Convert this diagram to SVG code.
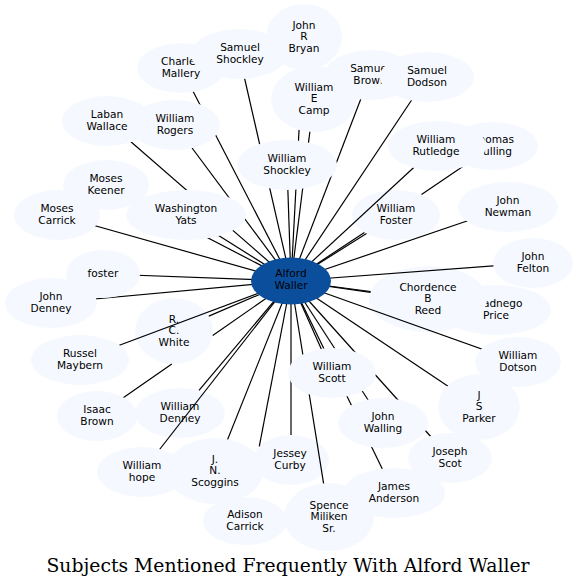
<svg xmlns="http://www.w3.org/2000/svg" width="577" height="587" viewBox="0 0 577 587">
<style>
.n ellipse{fill:#f5f9ff;stroke:none}
.n text,.c text{font-family:"DejaVu Sans","Liberation Sans",sans-serif;font-size:10.6px;text-anchor:middle;fill:#000}
.c ellipse{fill:#0b4f9c;stroke:none}
#edges path{stroke:#000;stroke-width:1.2;fill:none}
.title{font-family:"DejaVu Serif","Liberation Serif",serif;font-size:18px;text-anchor:middle;fill:#000}
</style>
<rect width="577" height="587" fill="#fff"/>
<g id="n-shadnego-price" class="n"><ellipse cx="496" cy="310" rx="55" ry="25"/><text y="307.35"><tspan x="496">Shadnego</tspan><tspan x="496" dy="11.7">Price</tspan></text></g>
<g id="n-chordence-b-reed" class="n"><ellipse cx="428" cy="299" rx="59" ry="33"/><text y="290.5"><tspan x="428">Chordence</tspan><tspan x="428" dy="11.7">B</tspan><tspan x="428" dy="11.7">Reed</tspan></text></g>
<g id="n-william-denney" class="n"><ellipse cx="180" cy="413" rx="45" ry="25"/><text y="410.35"><tspan x="180">William</tspan><tspan x="180" dy="11.7">Denney</tspan></text></g>
<g id="n-rc-white" class="n"><ellipse cx="174" cy="331" rx="39" ry="33"/><text y="322.5"><tspan x="174">R.</tspan><tspan x="174" dy="11.7">C.</tspan><tspan x="174" dy="11.7">White</tspan></text></g>
<g id="n-william-foster" class="n"><ellipse cx="396" cy="215" rx="44" ry="25"/><text y="212.35"><tspan x="396">William</tspan><tspan x="396" dy="11.7">Foster</tspan></text></g>
<g id="n-jessey-curby" class="n"><ellipse cx="291" cy="460" rx="38" ry="25"/><text y="457.35"><tspan x="290">Jessey</tspan><tspan x="290" dy="11.7">Curby</tspan></text></g>
<g id="edges">
<path d="M291 281L304 37"/>
<path d="M291 281L314 99"/>
<path d="M291 281L181 68"/>
<path d="M291 281L239 54"/>
<path d="M291 281L287 165"/>
<path d="M291 281L175 125"/>
<path d="M291 281L107 121"/>
<path d="M291 281L106 185"/>
<path d="M291 281L186 215"/>
<path d="M291 281L57 215"/>
<path d="M291 281L103 274"/>
<path d="M291 281L51 303"/>
<path d="M291 281L212.7 335.5M171.8 364L97 416"/>
<path d="M291 281L208.8 316.1"/>
<path d="M291 281L80 360"/>
<path d="M291 281L199 390.3"/>
<path d="M291 281L142 472"/>
<path d="M291 281L259.3 446.4"/>
<path d="M291 281L215 471"/>
<path d="M291 281L291 435"/>
<path d="M291 281L329 517"/>
<path d="M291 281L394 493"/>
<path d="M291 281L450 458"/>
<path d="M291 281L383 423"/>
<path d="M291 281L332 373"/>
<path d="M291 281L479 407"/>
<path d="M291 281L518 362"/>
<path d="M291 281L370.5 292.3"/>
<path d="M291 281L370.7 291.5"/>
<path d="M291 281L533 263"/>
<path d="M291 281L508 207"/>
<path d="M291 281L364.4 232.4M421.5 194.6L493 146"/>
<path d="M291 281L366.5 233.5"/>
<path d="M291 281L437 146"/>
<path d="M291 281L370 75"/>
<path d="M291 281L427 77"/>
</g>
<g id="n-samuel-brown" class="n"><ellipse cx="370" cy="75" rx="45" ry="25"/><text y="72.35"><tspan x="370">Samuel</tspan><tspan x="370" dy="11.7">Brown</tspan></text></g>
<g id="n-samuel-dodson" class="n"><ellipse cx="427" cy="77" rx="47" ry="25"/><text y="74.35"><tspan x="427">Samuel</tspan><tspan x="427" dy="11.7">Dodson</tspan></text></g>
<g id="n-john-r-bryan" class="n"><ellipse cx="304" cy="37" rx="38" ry="33"/><text y="28.5"><tspan x="304">John</tspan><tspan x="304" dy="11.7">R</tspan><tspan x="304" dy="11.7">Bryan</tspan></text></g>
<g id="n-william-e-camp" class="n"><ellipse cx="314" cy="99" rx="43" ry="33"/><text y="90.5"><tspan x="314">William</tspan><tspan x="314" dy="11.7">E</tspan><tspan x="314" dy="11.7">Camp</tspan></text></g>
<g id="n-charles-mallery" class="n"><ellipse cx="181" cy="68" rx="44" ry="25"/><text y="65.35"><tspan x="181">Charles</tspan><tspan x="181" dy="11.7">Mallery</tspan></text></g>
<g id="n-samuel-shockley" class="n"><ellipse cx="239" cy="54" rx="48" ry="25"/><text y="51.35"><tspan x="240">Samuel</tspan><tspan x="240" dy="11.7">Shockley</tspan></text></g>
<g id="n-william-shockley" class="n"><ellipse cx="287" cy="165" rx="50" ry="25"/><text y="162.35"><tspan x="287">William</tspan><tspan x="287" dy="11.7">Shockley</tspan></text></g>
<g id="n-william-rogers" class="n"><ellipse cx="175" cy="125" rx="45" ry="25"/><text y="122.35"><tspan x="175">William</tspan><tspan x="175" dy="11.7">Rogers</tspan></text></g>
<g id="n-laban-wallace" class="n"><ellipse cx="107" cy="121" rx="45" ry="25"/><text y="118.35"><tspan x="107">Laban</tspan><tspan x="107" dy="11.7">Wallace</tspan></text></g>
<g id="n-moses-keener" class="n"><ellipse cx="106" cy="185" rx="43" ry="25"/><text y="182.35"><tspan x="106">Moses</tspan><tspan x="106" dy="11.7">Keener</tspan></text></g>
<g id="n-washington-yats" class="n"><ellipse cx="186" cy="215" rx="60" ry="25"/><text y="212.35"><tspan x="186">Washington</tspan><tspan x="186" dy="11.7">Yats</tspan></text></g>
<g id="n-moses-carrick" class="n"><ellipse cx="57" cy="215" rx="43" ry="25"/><text y="212.35"><tspan x="57">Moses</tspan><tspan x="57" dy="11.7">Carrick</tspan></text></g>
<g id="n-foster" class="n"><ellipse cx="103" cy="274" rx="37" ry="24"/><text x="103" y="277.2">foster</text></g>
<g id="n-john-denney" class="n"><ellipse cx="51" cy="303" rx="46" ry="25"/><text y="300.35"><tspan x="51">John</tspan><tspan x="51" dy="11.7">Denney</tspan></text></g>
<g id="n-isaac-brown" class="n"><ellipse cx="97" cy="416" rx="40" ry="25"/><text y="413.35"><tspan x="97">Isaac</tspan><tspan x="97" dy="11.7">Brown</tspan></text></g>
<g id="n-russel-maybern" class="n"><ellipse cx="80" cy="360" rx="49" ry="25"/><text y="357.35"><tspan x="80">Russel</tspan><tspan x="80" dy="11.7">Maybern</tspan></text></g>
<g id="n-william-hope" class="n"><ellipse cx="142" cy="472" rx="45" ry="25"/><text y="469.35"><tspan x="142">William</tspan><tspan x="142" dy="11.7">hope</tspan></text></g>
<g id="n-adison-carrick" class="n"><ellipse cx="245" cy="521" rx="42" ry="24"/><text y="518.35"><tspan x="245">Adison</tspan><tspan x="245" dy="11.7">Carrick</tspan></text></g>
<g id="n-jn-scoggins" class="n"><ellipse cx="215" cy="471" rx="48" ry="33"/><text y="462.5"><tspan x="215">J.</tspan><tspan x="215" dy="11.7">N.</tspan><tspan x="215" dy="11.7">Scoggins</tspan></text></g>
<g id="n-spence-miliken-sr" class="n"><ellipse cx="329" cy="517" rx="45" ry="34"/><text y="508.5"><tspan x="329">Spence</tspan><tspan x="329" dy="11.7">Miliken</tspan><tspan x="329" dy="11.7">Sr.</tspan></text></g>
<g id="n-james-anderson" class="n"><ellipse cx="394" cy="493" rx="51" ry="25"/><text y="490.35"><tspan x="394">James</tspan><tspan x="394" dy="11.7">Anderson</tspan></text></g>
<g id="n-joseph-scot" class="n"><ellipse cx="450" cy="458" rx="42" ry="25"/><text y="455.35"><tspan x="450">Joseph</tspan><tspan x="450" dy="11.7">Scot</tspan></text></g>
<g id="n-john-walling" class="n"><ellipse cx="383" cy="423" rx="45" ry="25"/><text y="420.35"><tspan x="383">John</tspan><tspan x="383" dy="11.7">Walling</tspan></text></g>
<g id="n-william-scott" class="n"><ellipse cx="332" cy="373" rx="44" ry="25"/><text y="370.35"><tspan x="332">William</tspan><tspan x="332" dy="11.7">Scott</tspan></text></g>
<g id="n-j-s-parker" class="n"><ellipse cx="479" cy="407" rx="41" ry="33"/><text y="398.5"><tspan x="479">J</tspan><tspan x="479" dy="11.7">S</tspan><tspan x="479" dy="11.7">Parker</tspan></text></g>
<g id="n-william-dotson" class="n"><ellipse cx="518" cy="362" rx="43" ry="25"/><text y="359.35"><tspan x="518">William</tspan><tspan x="518" dy="11.7">Dotson</tspan></text></g>
<g id="n-john-felton" class="n"><ellipse cx="533" cy="263" rx="40" ry="25"/><text y="260.35"><tspan x="533">John</tspan><tspan x="533" dy="11.7">Felton</tspan></text></g>
<g id="n-john-newman" class="n"><ellipse cx="508" cy="207" rx="50" ry="25"/><text y="204.35"><tspan x="508">John</tspan><tspan x="508" dy="11.7">Newman</tspan></text></g>
<g id="n-thomas-mulling" class="n"><ellipse cx="493" cy="146" rx="45" ry="24"/><text y="143.35"><tspan x="493">Thomas</tspan><tspan x="493" dy="11.7">Mulling</tspan></text></g>
<g id="n-william-rutledge" class="n"><ellipse cx="437" cy="146" rx="49" ry="25"/><text y="143.35"><tspan x="436">William</tspan><tspan x="436" dy="11.7">Rutledge</tspan></text></g>
<g id="n-alford-waller" class="c"><ellipse cx="291" cy="281" rx="40" ry="23.5"/><text y="277"><tspan x="291">Alford</tspan><tspan x="291" dy="11.7">Waller</tspan></text></g>
<text class="title" x="288" y="572" textLength="483" lengthAdjust="spacingAndGlyphs">Subjects Mentioned Frequently With Alford Waller</text>
</svg>
